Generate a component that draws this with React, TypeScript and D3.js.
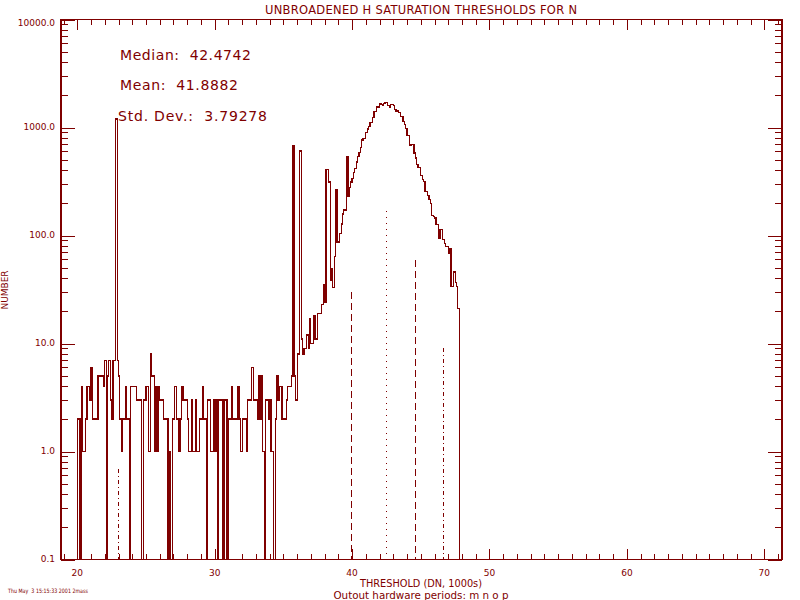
import React from "react";
import * as d3 from "d3";

// Histogram: bins of width 0.1 starting at 20.0 (thousands of DN)
const BIN_START = 20.0;
const BIN_WIDTH = 0.1;

const lowCounts = [
  2, 2, 0, 4, 1, 1, 2, 4, 4, 3,
  6, 2, 2, 2, 2, 5, 5, 5, 5, 4,
  7, 0, 5, 7, 3, 2, 7, 7, 1200, 7,
  5, 2, 1, 2, 2, 4, 2, 2, 0, 4,
  4, 4, 4, 3, 3, 3, 3, 0, 3, 3,
  4, 4, 1, 8, 5, 5, 1, 4, 1, 4,
  3, 3, 3, 2, 2, 2, 0, 1, 0, 2,
  2, 4, 2, 2, 1, 2, 4, 3, 3, 3,
  2, 1, 1, 3, 1, 1, 3, 1, 1, 2,
  2, 4, 2, 2, 0, 3, 3, 1, 1, 3,
  1, 3, 0, 3, 3, 3, 0, 3, 3, 0,
  2, 2, 4, 2, 2, 2, 2, 4, 2, 1,
  2, 2, 2, 1, 3, 3, 3, 6, 3, 3,
  3, 2, 5, 2, 5, 1, 0, 3, 3, 2,
  3, 1, 1, 0, 2, 5, 3, 4, 4, 2,
];

const riseCounts = [
  2, 2, 3, 4, 4, 4, 5, 675, 5, 3,
  8, 8, 605, 11, 8, 9, 9, 12, 9, 17,
  10, 10, 18, 11, 11, 19, 19, 19, 23, 35,
  24, 410, 410, 313, 38, 49, 33, 64, 268, 87,
  87, 105, 128, 158, 172, 172, 541, 230, 280, 313,
  340, 380, 420, 480, 540, 590,
];

const peakCounts = [
  656, 766, 794, 794, 903, 968, 1017, 1117, 1117, 1242,
  1400, 1400, 1548, 1548, 1675, 1637, 1610, 1675, 1712, 1712,
  1610, 1550, 1637, 1637, 1610, 1470, 1420, 1420, 1375, 1275,
  1275, 1135, 1065, 976, 840, 840, 690, 700, 700, 580,
  522, 455, 423, 423, 360, 330, 316, 256, 256, 235,
  216, 198, 152, 150, 145, 127, 127, 95, 114, 114,
  92, 85, 79, 79, 68, 75, 34, 34, 46, 37,
  34, 21,
];

const counts = [...lowCounts, ...riseCounts, ...peakCounts];

const xTicks = [20, 30, 40, 50, 60, 70];
const xTickLabels = ["20", "30", "40", "50", "60", "70"];
const yTicks = [0.1, 1, 10, 100, 1000, 10000];
const yTickLabels = ["0.1", "1.0", "10.0", "100.0", "1000.0", "10000.0"];

// Reference lines: position (x) and height (count) with style
const refX = [22.94, 39.94, 42.4742, 44.56, 46.64];
const refTop = [0.69, 30, 168, 59, 9.1];
const refStyle = ["dashdot", "dash", "dot", "dash", "dashdot"];

const statLabels = ["Median:  42.4742", "Mean:  41.8882", "Std. Dev.:  3.79278"];

const TITLE = "UNBROADENED H SATURATION THRESHOLDS FOR N";
const XTITLE = "THRESHOLD (DN, 1000s)";
const YTITLE = "NUMBER";
const SUBTITLE = "Outout hardware periods: m n o p";
const STAMP = "Thu May  3 15:15:33 2001 2mass";

const COLOR = "#7f0000";
const FONT = "'DejaVu Sans', sans-serif";

export default function App() {
  const L = 61, R = 782, T = 19.5, B = 559.5;
  const x = d3.scaleLinear().domain([18.814, 71.288]).range([L, R]);
  const y = d3.scaleLog().domain([0.1, 10000]).range([B, T]);

  // histogram stepped path
  const pts: [number, number][] = [];
  pts.push([x(BIN_START), B]);
  counts.forEach((c, i) => {
    const x0 = x(BIN_START + i * BIN_WIDTH);
    const x1 = x(BIN_START + (i + 1) * BIN_WIDTH);
    const yy = c > 0 ? y(c) : B;
    pts.push([x0, yy]);
    pts.push([x1, yy]);
  });
  pts.push([x(BIN_START + counts.length * BIN_WIDTH), B]);
  const line = d3.line<[number, number]>().x((d) => d[0]).y((d) => d[1]);
  const histPath = line(pts) || "";

  const xMinor = d3.range(19, 72, 1);
  const yMinor: number[] = [];
  [0.1, 1, 10, 100, 1000].forEach((d) => {
    for (let m = 2; m <= 9; m++) yMinor.push(d * m);
  });

  const xMajLen = 10.8, xMinLen = 5.4, yMajLen = 14.4, yMinLen = 7.2;

  const dashFor = (s: string) =>
    s === "dash" ? "7,4" : s === "dot" ? "1,5" : "4,3,1,3";

  const statWidths = [131, 118, 149];

  return (
    <div style={{ position: "fixed", left: 0, top: 0 }}>
      <svg width={800} height={600} style={{ display: "block", background: "#fff" }}>
        <g stroke={COLOR} strokeWidth={1} shapeRendering="crispEdges" fill="none">
          {/* frame */}
          <rect x={L} y={T} width={R - L} height={B - T} strokeWidth={1.5} />
          {/* x ticks bottom & top */}
          {xMinor.map((v) => {
            const major = xTicks.includes(v);
            const len = major ? xMajLen : xMinLen;
            const px = Math.round(x(v)) + 0.5;
            return (
              <g key={"xt" + v}>
                <line x1={px} x2={px} y1={B} y2={B - len} />
                <line x1={px} x2={px} y1={T} y2={T + len} />
              </g>
            );
          })}
          {/* y ticks left & right */}
          {yTicks.map((v) => {
            const py = Math.round(y(v)) + 0.5;
            return (
              <g key={"yt" + v}>
                <line x1={L} x2={L + yMajLen} y1={py} y2={py} />
                <line x1={R} x2={R - yMajLen} y1={py} y2={py} />
              </g>
            );
          })}
          {yMinor.map((v) => {
            const py = Math.round(y(v)) + 0.5;
            return (
              <g key={"ym" + v}>
                <line x1={L} x2={L + yMinLen} y1={py} y2={py} />
                <line x1={R} x2={R - yMinLen} y1={py} y2={py} />
              </g>
            );
          })}
          {/* histogram */}
          <path d={histPath} strokeWidth={1.2} />
          {/* reference lines */}
          {refX.map((v, i) => {
            const px = Math.round(x(v)) + 0.5;
            return (
              <line
                key={"ref" + i}
                x1={px}
                x2={px}
                y1={y(refTop[i])}
                y2={B}
                strokeDasharray={dashFor(refStyle[i])}
              />
            );
          })}
        </g>
        <g fill={COLOR} fontFamily={FONT}>
          <text x={421} y={14} fontSize={11.5} textAnchor="middle" textLength={312} lengthAdjust="spacing">
            {TITLE}
          </text>
          {yTicks.map((v, i) => (
            <text
              key={"yl" + v}
              x={55}
              y={y(v) + (i === yTicks.length - 1 ? 6.5 : 2.5)}
              fontSize={9}
              textAnchor="end"
            >
              {yTickLabels[i]}
            </text>
          ))}
          {xTicks.map((v, i) => (
            <text key={"xl" + v} x={x(v)} y={576} fontSize={9} textAnchor="middle">
              {xTickLabels[i]}
            </text>
          ))}
          {statLabels.map((s, i) => (
            <text
              key={"st" + i}
              x={i === 2 ? 118 : 120}
              y={60 + i * 30.3}
              fontSize={14}
              style={{ whiteSpace: "pre" }}
              textLength={statWidths[i]}
              lengthAdjust="spacing"
            >
              {s}
            </text>
          ))}
          <text x={421} y={587} fontSize={10} textAnchor="middle" textLength={122} lengthAdjust="spacingAndGlyphs">
            {XTITLE}
          </text>
          <text x={421} y={599} fontSize={10} textAnchor="middle" textLength={175} lengthAdjust="spacingAndGlyphs">
            {SUBTITLE}
          </text>
          <text x={8} y={593} fontSize={6} style={{ whiteSpace: "pre" }} textLength={80} lengthAdjust="spacingAndGlyphs">
            {STAMP}
          </text>
          <text transform="translate(8,290) rotate(-90)" fontSize={9} textAnchor="middle">
            {YTITLE}
          </text>
        </g>
      </svg>
    </div>
  );
}
